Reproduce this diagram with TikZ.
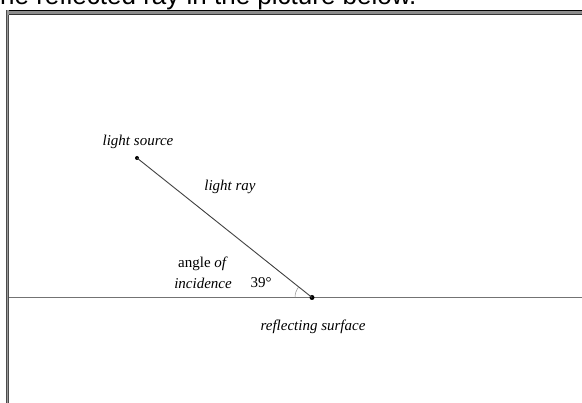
\documentclass[tikz,border=0pt]{standalone}
\usepackage{fontspec}
\setmainfont{Liberation Serif}
\newfontfamily\topfont{Liberation Sans}
\begin{document}
\begin{tikzpicture}[x=1pt,y=1pt,
  lbl/.style={font=\fontsize{15}{17}\selectfont\itshape, inner sep=0pt},
  rlbl/.style={font=\fontsize{15}{17}\selectfont, inner sep=0pt},
  ray/.style={draw=black!75, line width=0.9pt},
  surf/.style={draw=black!55, line width=1.4pt},
  dotc/.style={circle, fill=black, inner sep=0pt, minimum size=#1}]
\useasboundingbox (0,0) rectangle (582,403);
% page top text (cut off)
\node[anchor=base west, inner sep=0pt, font=\topfont\fontsize{26}{30}\selectfont] (toptext) at (-7.2,398.5) {the reflected ray in the picture below.};
% frame
\fill[black!45] (6,388) rectangle (582,393);
\draw[black, line width=1.2pt] (6,392.4) -- (582,392.4);
\draw[black!80, line width=0.9pt] (9,388.4) -- (582,388.4);
\fill[black!40] (6,0) rectangle (9,393);
\draw[black!70, line width=0.7pt] (6.35,0) -- (6.35,393);
\draw[black!70, line width=0.7pt] (8.65,0) -- (8.65,388);
% surface
\coordinate (L) at (9,105.5);
\coordinate (R) at (582,105.5);
\draw[surf] (L) -- (R);
% points
\node[dotc=4pt] (S) at (137,245) {};
\node[dotc=5pt] (P) at (312,105.5) {};
\draw[ray] (S.center) -- (P.center);
% angle arc
\draw[black!45, line width=0.5pt] ([shift={(180:17)}]P.center) arc[start angle=180, end angle=141, radius=17];
% labels
\node[lbl] (ls) at (138,261) {light source};
\node[lbl] (lr) at (230,216) {light ray};
\node[rlbl] (ao) at (203,139) {angle \textit{of}};
\node[lbl] (inc) at (203,120) {incidence};
\node[rlbl] (deg) at (261,120) {39°};
\node[lbl] (rs) at (313,76) {reflecting surface};
\end{tikzpicture}
\end{document}
